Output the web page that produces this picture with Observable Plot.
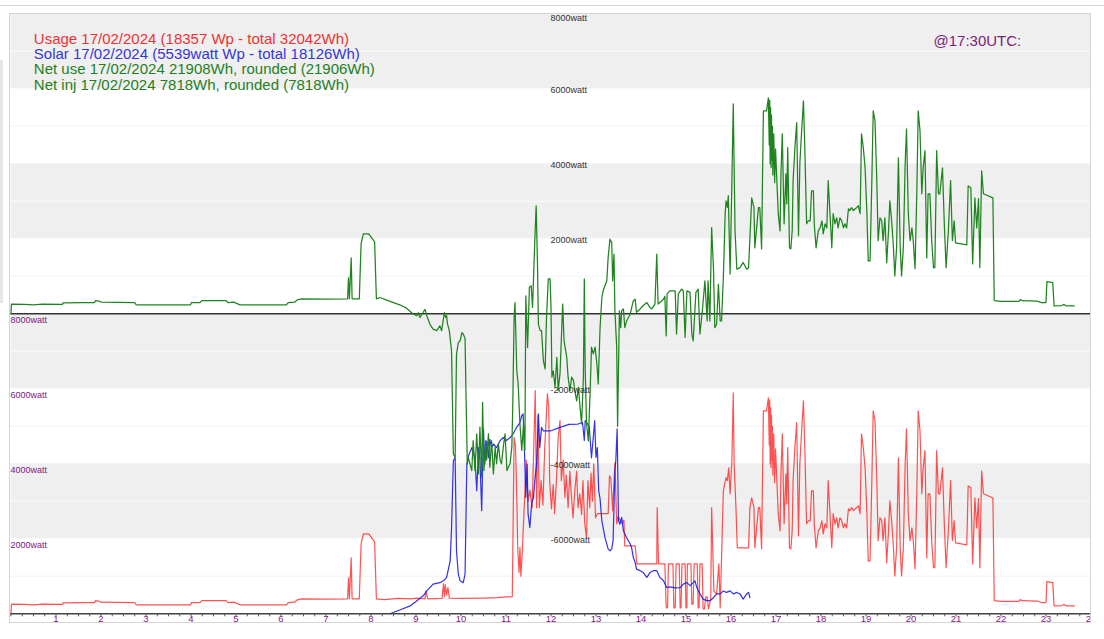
<!DOCTYPE html>
<html><head><meta charset="utf-8">
<script src="https://cdn.jsdelivr.net/npm/d3@7"></script>
<script src="https://cdn.jsdelivr.net/npm/@observablehq/plot@0.6"></script>
<style>
html,body{margin:0;padding:0;background:#fff;width:1104px;height:639px;overflow:hidden;font-family:"Liberation Sans",Arial,sans-serif;}
#topline{position:absolute;left:0;top:5px;width:1104px;height:0;border-top:1.5px solid #d8d8d8;}
#leftstrip{position:absolute;left:0;top:60px;width:3px;height:243px;background:#e6e6e6;}
#wrap{position:absolute;left:0;top:0;width:1091px;height:639px;overflow:hidden;}
#frame{position:absolute;left:9px;top:13px;width:1082px;height:610px;box-sizing:border-box;border:1px solid #d4d4d4;pointer-events:none;}
</style></head><body>
<div id="topline"></div><div id="leftstrip"></div>
<div id="wrap"></div>
<div id="frame"></div>
<script>
// ---- data (hour of day, watt) ----
const usage = [
[0.00,0],[0.01,260],[0.30,250],[0.50,240],[0.70,260],[1.14,250],[1.16,290],[1.60,300],[1.85,300],[1.88,350],[1.95,340],[2.00,310],
[2.75,300],[2.78,240],[3.99,240],[4.01,300],[4.20,300],[4.24,350],[4.78,350],[4.82,300],[4.95,310],[5.09,240],[6.12,240],[6.16,300],
[6.30,310],[6.36,370],[6.45,400],[7.00,390],[7.48,400],[7.50,960],[7.52,400],[7.56,1490],[7.58,400],[7.74,400],[7.78,1870],[7.83,2130],
[7.95,2130],[8.08,1920],[8.12,400],[8.30,380],[8.60,410],[8.90,400],[9.00,420],[9.20,400],[9.22,610],[9.26,400],[9.58,410],[9.61,800],
[9.63,450],[9.65,780],[9.68,500],[9.71,700],[9.74,420],[10.00,410],[10.50,420],[10.80,430],[11.14,460],[11.18,4700],[11.21,4500],
[11.24,3100],[11.26,1770],[11.29,1100],[11.31,1770],[11.33,1000],[11.36,1600],[11.45,4100],[11.49,3000],[11.53,3300],[11.58,2830],
[11.61,4100],[11.65,5950],[11.68,2830],[11.71,5300],[11.74,2830],[11.78,3550],[11.82,2900],[11.86,4400],[11.92,5870],[11.95,5500],
[11.97,3550],[12.01,2800],[12.05,3450],[12.08,2670],[12.12,3550],[12.16,4700],[12.20,5150],[12.23,3550],[12.27,4100],[12.31,3100],
[12.34,3700],[12.38,2830],[12.42,3800],[12.45,3200],[12.49,2560],[12.53,3300],[12.57,3800],[12.60,2830],[12.64,3200],[12.68,2650],
[12.71,3550],[12.75,2400],[12.79,2030],[12.82,3550],[12.86,2830],[12.89,3750],[12.92,3000],[12.95,4000],[12.99,2560],[13.03,2670],
[13.27,2670],[13.30,3680],[13.33,3620],[13.37,2750],[13.42,4030],[13.46,2400],[13.49,2600],[13.58,2400],[13.62,2500],[13.64,1810],
[13.87,1810],[13.91,1330],[14.35,1330],[14.36,2830],[14.39,1330],[14.53,1330],[14.56,160],[14.59,160],[14.61,1330],[14.71,1330],
[14.73,160],[14.76,160],[14.78,1330],[14.85,1330],[14.87,160],[14.89,160],[14.91,1330],[14.98,1330],[15.00,160],[15.02,160],
[15.03,1330],[15.11,1330],[15.13,260],[15.16,260],[15.18,1330],[15.25,1330],[15.27,160],[15.29,160],[15.31,1330],[15.36,1330],
[15.38,130],[15.41,130],[15.44,450],[15.47,450],[15.50,130],[15.55,400],[15.57,2830],[15.62,600],[15.68,530],[15.73,1330],[15.76,160],
[15.79,1500],[15.83,3280],[15.89,3630],[15.92,3550],[15.95,3890],[15.98,3200],[16.02,4080],[16.05,5890],[16.07,4000],[16.11,2830],
[16.14,1760],[16.39,1760],[16.42,2830],[16.46,3090],[16.51,2830],[16.53,1760],[16.61,2830],[16.64,2830],[16.68,1730],[16.72,5410],
[16.79,5410],[16.83,5760],[16.85,4500],[16.86,5700],[16.87,4000],[16.88,5500],[16.89,3900],[16.90,5300],[16.91,4100],[16.92,5000],
[16.93,3700],[16.95,4800],[16.97,3500],[16.99,4400],[17.01,3810],[17.05,2670],[17.09,2210],[17.11,3730],[17.14,4800],[17.18,2400],
[17.22,3730],[17.24,2930],[17.26,4430],[17.30,1760],[17.33,1730],[17.36,2210],[17.38,3550],[17.42,4430],[17.46,5100],[17.50,2080],
[17.53,4000],[17.57,4880],[17.61,5680],[17.64,4430],[17.68,2400],[17.72,2480],[17.76,2480],[17.79,3280],[17.83,3280],[17.85,2400],
[17.89,1760],[17.94,2210],[17.98,2290],[18.02,2480],[18.05,2130],[18.09,2400],[18.13,2290],[18.16,3550],[18.20,2670],[18.24,1760],
[18.27,2670],[18.31,2400],[18.35,2560],[18.38,2290],[18.42,2560],[18.46,2480],[18.50,2290],[18.53,2400],[18.57,2290],[18.61,2800],
[18.64,2750],[18.68,2830],[18.72,2750],[18.76,2800],[18.79,2830],[18.83,2880],[18.87,2670],[18.90,4800],[18.94,4430],[18.98,3890],
[19.02,2670],[19.05,1410],[19.09,1410],[19.13,3550],[19.16,5410],[19.20,5150],[19.24,3550],[19.27,1950],[19.31,2560],[19.35,2480],
[19.38,1950],[19.42,2560],[19.46,1360],[19.50,2210],[19.53,3010],[19.57,2480],[19.61,1760],[19.64,1010],[19.68,1760],[19.72,4160],
[19.76,1760],[19.79,1010],[19.83,1760],[19.87,4000],[19.90,4930],[19.94,2670],[19.98,1950],[20.02,2290],[20.05,1950],[20.09,1200],
[20.13,3280],[20.16,5410],[20.20,4880],[20.24,3200],[20.27,3890],[20.31,4350],[20.35,1490],[20.38,3200],[20.42,3200],[20.46,1950],
[20.50,1230],[20.53,1230],[20.57,4350],[20.61,3200],[20.64,3200],[20.70,3890],[20.74,2400],[20.78,1230],[20.83,2210],[20.88,3550],
[20.92,1950],[20.96,2480],[20.99,1890],[21.24,1840],[21.27,3410],[21.33,3360],[21.37,1330],[21.42,3090],[21.46,2290],[21.50,3070],
[21.53,1230],[21.57,3810],[21.61,3200],[21.82,3090],[21.85,350],[22.00,330],[22.40,330],[22.43,380],[22.47,350],[22.80,340],
[22.90,300],[23.00,300],[23.02,860],[23.15,830],[23.18,210],[23.35,220],[23.40,250],[23.45,210],[23.63,210]
];

const solar = [
[8.42,0],[8.64,100],[8.87,210],[9.02,350],[9.16,480],[9.24,610],[9.38,790],[9.53,830],[9.61,880],[9.68,970],[9.76,1410],[9.79,2300],
[9.83,4080],[9.87,4170],[9.90,1680],[9.94,1060],[9.98,880],[10.05,830],[10.09,1060],[10.13,4000],[10.17,4220],[10.24,4430],[10.27,4350],
[10.31,4130],[10.35,3280],[10.39,4430],[10.42,4130],[10.46,2750],[10.50,4930],[10.53,3990],[10.57,4600],[10.61,4170],[10.64,4650],
[10.68,4430],[10.72,4530],[10.79,4430],[10.87,4620],[10.94,4700],[11.01,4620],[11.09,4700],[11.16,4800],[11.24,4980],[11.31,5100],
[11.35,5280],[11.38,5330],[11.42,3990],[11.44,3100],[11.47,3990],[11.49,2670],[11.53,2300],[11.57,2930],[11.61,3100],[11.64,3550],
[11.68,3990],[11.72,5330],[11.75,4430],[11.79,4970],[11.83,4880],[12.00,4880],[12.20,4970],[12.40,5050],[12.60,5060],[12.70,5100],
[12.74,4620],[12.76,5150],[12.85,5000],[12.90,4160],[12.94,4700],[12.97,5150],[13.00,4170],[13.03,4430],[13.06,3280],[13.09,3070],
[13.13,2480],[13.20,2030],[13.27,1730],[13.31,1680],[13.35,1730],[13.38,1950],[13.42,3820],[13.44,4080],[13.47,4930],[13.50,2480],
[13.53,2390],[13.57,2570],[13.61,2210],[13.68,2030],[13.76,1860],[13.79,1770],[13.83,1500],[13.87,1370],[13.90,1190],[13.98,1150],
[14.05,1100],[14.13,970],[14.20,1100],[14.27,1150],[14.35,1150],[14.42,970],[14.50,880],[14.57,700],[14.64,720],[14.76,690],
[14.87,700],[14.94,790],[15.02,830],[15.09,750],[15.16,830],[15.20,880],[15.24,700],[15.31,530],[15.38,390],[15.46,350],[15.53,350],
[15.61,430],[15.68,530],[15.76,530],[15.83,610],[15.90,570],[15.98,610],[16.05,530],[16.13,570],[16.20,530],[16.27,390],[16.35,530],
[16.39,570],[16.42,430]
];

const netDaytime = [
[8.20,435],[8.35,365],[8.50,300],[8.64,240],[8.79,150],[8.94,-10],[9.02,-50],[9.05,30],[9.09,-100],[9.20,120],[9.24,-50],[9.31,-280],
[9.38,-410],[9.46,-450],[9.53,-320],[9.57,-450],[9.63,30],[9.66,-100],[9.68,-50],[9.70,-270],[9.74,-450],[9.79,-990],[9.83,-3740],
[9.87,-3830],[9.90,-1080],[9.94,-770],[9.98,-720],[10.02,-500],[10.05,-540],[10.09,-660],[10.11,-2050],[10.14,-4010],[10.16,-3830],
[10.20,-4000],[10.24,-4180],[10.27,-3380],[10.31,-4180],[10.35,-3200],[10.39,-4270],[10.42,-3020],[10.46,-4360],[10.48,-2360],
[10.51,-4180],[10.55,-3380],[10.57,-3900],[10.61,-3200],[10.64,-4090],[10.68,-3380],[10.72,-4270],[10.76,-3550],[10.79,-4000],
[10.83,-3470],[10.87,-3910],[10.90,-4000],[10.94,-3550],[10.98,-3200],[11.02,-4180],[11.05,-4090],[11.09,-4000],[11.13,-3550],
[11.15,-2500],[11.18,-100],[11.20,300],[11.24,-1520],[11.27,-1870],[11.31,-2940],[11.35,-3640],[11.39,-2940],[11.42,-3640],[11.44,480],
[11.48,-900],[11.52,700],[11.56,750],[11.59,170],[11.62,1230],[11.64,1950],[11.67,2880],[11.70,1320],[11.72,-280],[11.76,-450],
[11.79,-450],[11.83,-1250],[11.87,-1470],[11.90,-100],[11.94,930],[11.98,930],[12.00,170],[12.02,-1690],[12.05,-1520],[12.09,-1960],
[12.13,-1160],[12.16,-2050],[12.20,-1600],[12.26,260],[12.29,-720],[12.35,-1160],[12.38,-1690],[12.42,-2050],[12.46,-1690],[12.50,-1780],
[12.53,-2050],[12.57,-2320],[12.61,-1960],[12.64,-2410],[12.68,-2940],[12.72,-1690],[12.74,930],[12.76,-1500],[12.79,-2940],[12.83,-3390],
[12.87,-2050],[12.90,-890],[12.94,-1070],[12.98,-890],[13.02,-1340],[13.05,-1870],[13.09,-370],[13.13,430],[13.16,620],[13.24,880],
[13.27,1500],[13.31,1990],[13.35,1900],[13.37,880],[13.40,1590],[13.42,80],[13.46,-900],[13.48,-3000],[13.52,80],[13.55,-370],
[13.57,80],[13.61,130],[13.64,-370],[13.68,-190],[13.76,-10],[13.83,350],[13.87,390],[13.90,40],[13.98,130],[14.05,220],[14.13,300],
[14.20,170],[14.24,130],[14.31,260],[14.35,1590],[14.38,260],[14.42,300],[14.50,390],[14.53,470],[14.56,-590],[14.58,530],[14.64,610],
[14.72,610],[14.76,610],[14.79,-540],[14.83,530],[14.90,660],[14.94,610],[14.98,-630],[15.02,610],[15.09,570],[15.13,-540],[15.16,-720],
[15.22,570],[15.27,660],[15.31,-540],[15.37,170],[15.42,880],[15.47,-190],[15.49,880],[15.53,-190],[15.57,2300],[15.61,1230],
[15.64,-370],[15.68,-280],[15.72,790],[15.76,-190],[15.79,-190],[15.83,970],[15.87,2660],[15.89,3010],[15.92,2840],[15.94,3150],
[15.98,1060],[16.02,3550],[16.05,5600],[16.09,2200],[16.13,1190],[16.20,1230],[16.27,1370],[16.35,1190],[16.39,1230],[16.42,2000]
];

const hourTicks = [1,2,3,4,5,6,7,8,9,10,11,12,13,14,15,16,17,18,19,20,21,22,23,24];
const lowerTicks = [2000, 4000, 6000, 8000];
const upperTicks = [6000, 4000, 2000, -2000, -4000, -6000];
const upperTop = [8000];
const legendLines = [
  "Usage 17/02/2024 (18357 Wp - total 32042Wh)",
  "Solar 17/02/2024 (5539watt Wp - total 18126Wh)",
  "Net use 17/02/2024 21908Wh, rounded (21906Wh)",
  "Net inj 17/02/2024 7818Wh, rounded (7818Wh)"
];
const timeLabel = "@17:30UTC:";

// ---- build ----
const OFFSET = 8000; // the net-use axis has its zero where the usage axis reads 8000
const net = usage.filter(d => d[0] < 8.15).concat(netDaytime, usage.filter(d => d[0] > 16.43));
const bands = d3.range(2000, 16000, 4000);
const midLines = d3.range(1000, 16000, 2000);
const quarters = d3.range(0, 24.001, 0.25);
const legendColors = ["#ee3232", "#3535dd", "#1f7f1f", "#1f7f1f"];
const purple = "#802080";
const font = "Liberation Sans, Arial, sans-serif";

const marks = [
  Plot.rect(bands, {x1: 0, x2: 24, y1: d => d, y2: d => d + 2000, fill: "#efefef"}),
  Plot.ruleY(midLines, {stroke: "#f7f7f7", strokeWidth: 1.5}),
  Plot.line(usage, {x: d => d[0], y: d => d[1], stroke: "#ff0000", strokeOpacity: 0.68, strokeWidth: 1.2}),
  Plot.line(solar, {x: d => d[0], y: d => d[1], stroke: "#1c1ce8", strokeOpacity: 0.9, strokeWidth: 1.2}),
  Plot.ruleY([OFFSET], {stroke: "#333", strokeWidth: 1.4}),
  Plot.line(net, {x: d => d[0], y: d => d[1] + OFFSET, stroke: "#1f841f", strokeWidth: 1.25}),
  Plot.ruleY([0], {stroke: "#444", strokeWidth: 1.5}),
  Plot.ruleX(quarters, {x: d => d, y1: 0, y2: -80, stroke: "#555", strokeWidth: 1}),
  Plot.text(hourTicks, {x: d => d, y: 0, dy: 5.5, text: d => String(d), fill: purple, fontSize: 9.5, textAnchor: "middle"}),
  Plot.text(lowerTicks, {x: 0, y: d => d, dx: -0.5, dy: 6, text: d => d + "watt", fill: purple, fontSize: 9, textAnchor: "start"}),
  Plot.text(upperTicks, {x: 12, y: d => d + OFFSET, dx: -0.5, dy: 1.8, text: d => d + "watt", fill: "#333", fontSize: 9, textAnchor: "start"}),
  Plot.text(upperTop, {x: 12, y: d => d + OFFSET, dx: -0.5, dy: 4.5, text: d => d + "watt", fill: "#333", fontSize: 9, textAnchor: "start"})
];
legendLines.forEach((t, i) => {
  marks.push(Plot.text([t], {frameAnchor: "top-left", lineAnchor: "middle", dx: 22.8, dy: 25 + i * 15.3, text: d => d,
    fill: legendColors[i], fontSize: 15, textAnchor: "start"}));
});
marks.push(Plot.text([timeLabel], {frameAnchor: "top-left", lineAnchor: "middle", dx: 922.5, dy: 27, text: d => d,
  fill: "#7a1f7a", fontSize: 15, textAnchor: "start"}));

const chart = Plot.plot({
  width: 1091, height: 639,
  marginLeft: 10.5, marginRight: 0.5, marginTop: 13.3, marginBottom: 25.7,
  x: {domain: [0, 24], axis: null},
  y: {domain: [0, 16000], axis: null},
  style: {overflow: "hidden", fontFamily: font, background: "transparent"},
  marks
});
document.getElementById("wrap").append(chart);
</script></body></html>
